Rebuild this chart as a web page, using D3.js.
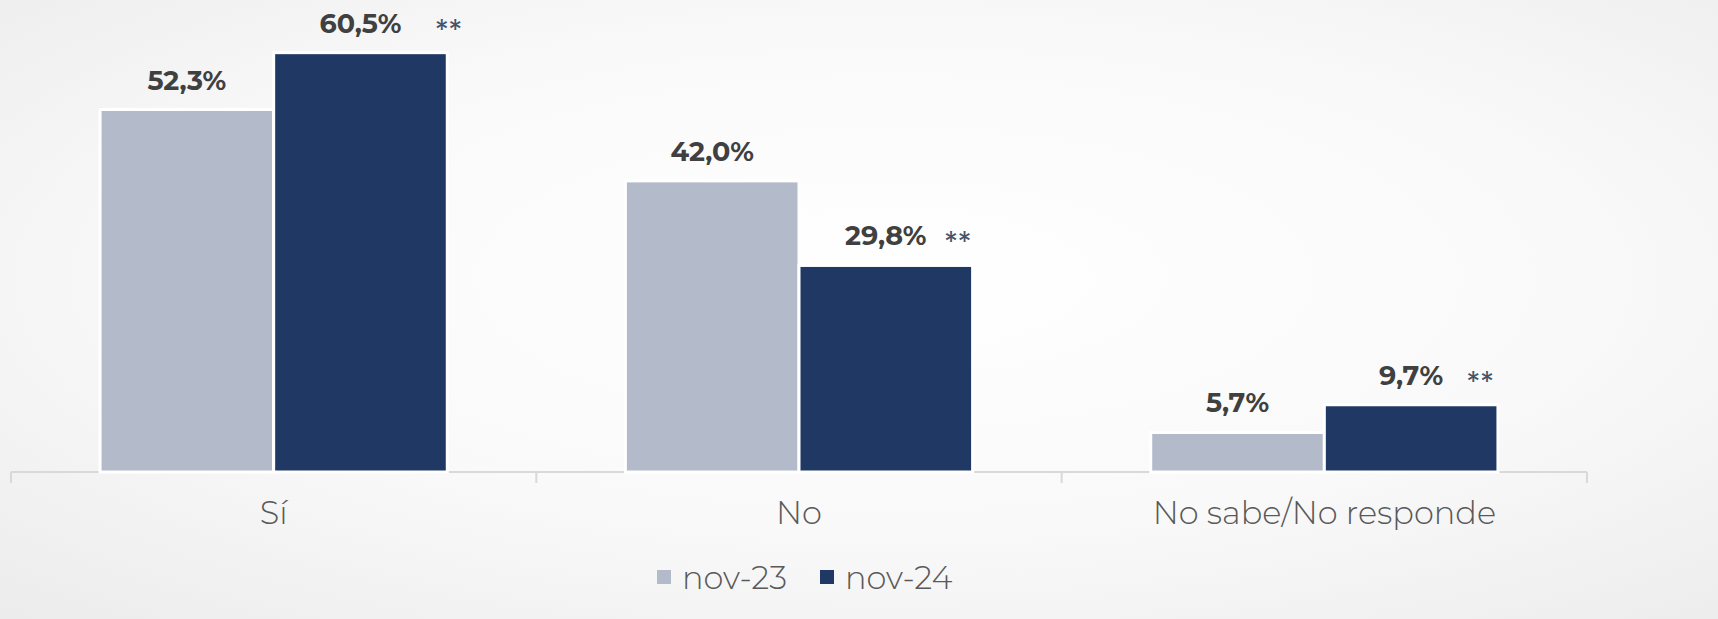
<!DOCTYPE html>
<html><head><meta charset="utf-8">
<script src="https://cdn.jsdelivr.net/npm/d3@7"></script>
<style>
html,body{margin:0;padding:0;}
body{width:1718px;height:619px;overflow:hidden;}
svg{display:block;}
</style></head>
<body>
<svg id="chart" width="1718" height="619"></svg>
<script>
const categories = ["Sí", "No", "No sabe/No responde"];
const seriesNames = ["nov-23", "nov-24"];
const nov23 = [52.3, 42.0, 5.7];
const nov24 = [60.5, 29.8, 9.7];
const significant = [true, true, true]; // "**" on nov-24
const colors = ["#b3bac9", "#203864"];

const W = 1718, H = 619;
const svg = d3.select("#chart");
const defs = svg.append("defs");
const grad = defs.append("radialGradient").attr("id","bg")
  .attr("cx","0.52").attr("cy","0.45").attr("r","0.75");
grad.append("stop").attr("offset","0").attr("stop-color","#ffffff");
grad.append("stop").attr("offset","0.55").attr("stop-color","#f9f9f9");
grad.append("stop").attr("offset","1").attr("stop-color","#ececec");
svg.append("rect").attr("width",W).attr("height",H).attr("fill","url(#bg)");

const baseY = 472;
const x = d3.scaleBand().domain(categories).range([11, 1587]).padding(0);
const x1 = d3.scaleBand().domain(seriesNames).range([0, x.bandwidth()])
  .paddingInner(0).paddingOuter(0.513);
const y = d3.scaleLinear().domain([0, 68.1]).range([baseY, 0]);

const rows = categories.map((c,i)=>({cat:c, vals:[nov23[i], nov24[i]], sig:significant[i]}));

// axis
const axis = d3.axisBottom(x).tickSize(11).tickFormat("").tickSizeOuter(11);
const gAxis = svg.append("g").attr("transform",`translate(0,${baseY})`).call(axis);
gAxis.selectAll(".tick").remove();
const edges = categories.map(c=>x(c)).concat([x.range()[1]]);
gAxis.selectAll("line.edge").data(edges).join("line").attr("class","edge")
  .attr("x1",d=>d).attr("x2",d=>d).attr("y1",0).attr("y2",11)
  .attr("stroke","#d9d9d9").attr("stroke-width",2);
gAxis.select(".domain").attr("d",`M${x.range()[0]},0H${x.range()[1]}`)
  .attr("fill","none").attr("stroke","#d9d9d9").attr("stroke-width",2);

// bars
const groups = svg.selectAll("g.grp").data(rows).join("g").attr("class","grp")
  .attr("transform",d=>`translate(${x(d.cat)},0)`);
groups.selectAll("rect").data(d=>d.vals.map((v,j)=>({v, s:seriesNames[j], j})))
  .join("rect")
  .attr("x",d=>x1(d.s)).attr("width",x1.bandwidth())
  .attr("y",d=>y(d.v)).attr("height",d=>baseY-y(d.v))
  .attr("fill",d=>colors[d.j]).attr("stroke","#ffffff").attr("stroke-width",3);

const fmt = v => v.toFixed(1).replace(".", ",") + "%";
groups.selectAll("text.val").data(d=>d.vals.map((v,j)=>({v, s:seriesNames[j]})))
  .join("text").attr("class","val")
  .attr("x",d=>x1(d.s)+x1.bandwidth()/2).attr("y",d=>y(d.v)-20)
  .attr("text-anchor","middle")
  .attr("font-family","Montserrat, Inter, sans-serif").attr("font-weight",700)
  .attr("font-size",27).attr("fill","#404040").text(d=>fmt(d.v));

const starDx = [88, 72, 69];
groups.filter(d=>d.sig).append("text")
  .attr("x",d=>x1("nov-24")+x1.bandwidth()/2+starDx[categories.indexOf(d.cat)])
  .attr("y",d=>y(d.vals[1])-14)
  .attr("text-anchor","middle")
  .attr("font-family","Inter, sans-serif").attr("font-weight",400)
  .attr("font-size",27).attr("fill","#44546a").text("**");

// category labels
svg.selectAll("text.cat").data(categories).join("text").attr("class","cat")
  .attr("x",d=>x(d)+x.bandwidth()/2).attr("y",524)
  .attr("text-anchor","middle")
  .attr("font-family","Montserrat, Inter, sans-serif").attr("font-weight",300)
  .attr("font-size",32).attr("fill","#595959").text(d=>d);

// legend
const legX = [657, 820];
const leg = svg.selectAll("g.leg").data(seriesNames).join("g").attr("class","leg")
  .attr("transform",(d,i)=>`translate(${legX[i]},570)`);
leg.append("rect").attr("width",14).attr("height",14).attr("fill",(d,i)=>colors[i]);
leg.append("text").attr("x",25).attr("y",19)
  .attr("font-family","Montserrat, Inter, sans-serif").attr("font-weight",300)
  .attr("font-size",32).attr("fill","#595959").text(d=>d);
</script>
</body></html>
